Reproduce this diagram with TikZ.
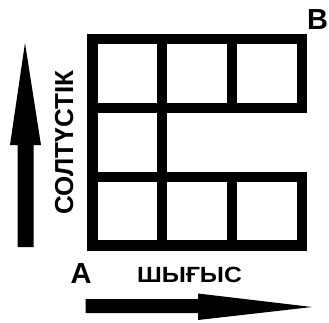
\documentclass[tikz,border=0pt]{standalone}
\usepackage{fontspec}
\setmainfont{Liberation Sans}
\begin{document}
\begin{tikzpicture}[x=1pt,y=-1pt,
  wall/.style={line width=10.5pt,line join=miter,line cap=rect},
  arrowfill/.style={fill=black,draw=none},
  lbl/.style={inner sep=0pt,anchor=base,font=\bfseries}]
\useasboundingbox (0,0) rectangle (329,322);
% grid
\draw[wall] (92.5,39) rectangle (302,108);
\draw[wall] (92.5,177) rectangle (302,245.5);
\draw[wall] (92.5,108) -- (92.5,177);
\draw[wall] (162,39) -- (162,245.5);
\draw[wall] (232,39) -- (232,108);
\draw[wall] (232,177) -- (232,245.5);
% north arrow
\fill[arrowfill] (17.5,247) -- (17.5,145) -- (10,145) -- (25,43) -- (41,145) -- (33.5,145) -- (33.5,247) -- cycle;
% east arrow
\fill[arrowfill] (85.5,299) -- (198,299) -- (198,293.5) -- (312,307) -- (198,320) -- (198,313) -- (85.5,313) -- cycle;
% labels
\node[lbl,rotate=90] (north) at (73,142.5) {\fontsize{26}{26}\selectfont СОЛТҮСТІК};
\node[lbl,xscale=1.12] (east) at (189.5,282) {\fontsize{22}{22}\selectfont ШЫҒЫС};
\node[lbl] (A) at (81,283) {\fontsize{29}{29}\selectfont A};
\node[lbl] (B) at (317.5,29) {\fontsize{29}{29}\selectfont B};
\end{tikzpicture}
\end{document}
